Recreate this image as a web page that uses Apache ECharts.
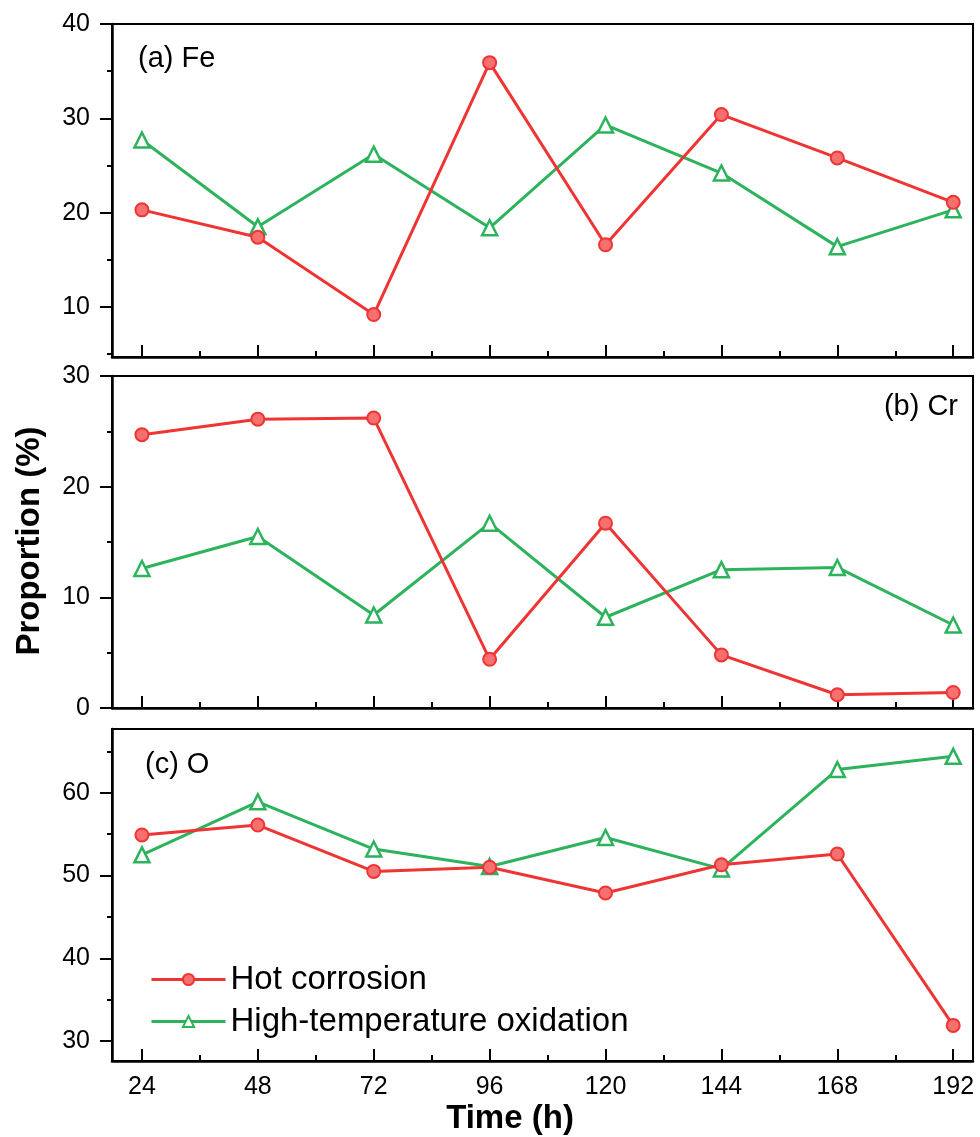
<!DOCTYPE html>
<html>
<head>
    <meta charset="utf-8"/>
    <title>Proportion vs time</title>
    <script src="https://cdn.jsdelivr.net/npm/echarts@6/dist/echarts.min.js"></script>
    <style type="text/css">
        html, body { margin: 0; padding: 0; background: #fff; }
        #main { width: 980px; height: 1137px; }
    </style>
</head>
<body>
<div id="main"></div>
<script type="text/javascript">
    // exposure time (h)
    var times = [24, 48, 72, 96, 120, 144, 168, 192];
    var minorTimes = [36, 60, 84, 108, 132, 156, 180];

    // (a) Fe
    var feHot = [20.3, 17.4, 9.2, 35.9, 16.6, 30.4, 25.8, 21.1];
    var feOx  = [27.7, 18.5, 26.2, 18.4, 29.3, 24.2, 16.4, 20.3];
    // (b) Cr
    var crHot = [24.7, 26.1, 26.2, 4.4, 16.7, 4.8, 1.2, 1.4];
    var crOx  = [12.6, 15.5, 8.4, 16.7, 8.2, 12.5, 12.7, 7.5];
    // (c) O
    var oHot = [54.9, 56.1, 50.5, 51.0, 47.9, 51.3, 52.6, 31.9];
    var oOx  = [52.5, 58.9, 53.2, 51.1, 54.6, 50.8, 62.8, 64.4];

    var seriesNames = ['Hot corrosion', 'High-temperature oxidation'];
    var panelTitles = ['(a) Fe', '(b) Cr', '(c) O'];

    var yRanges = [[4.7, 40], [0, 30], [27.6, 67.7]];
    var yMajor = [[10, 20, 30, 40], [0, 10, 20, 30], [30, 40, 50, 60]];
    var yMinor = [[5, 15, 25, 35], [5, 15, 25], [35, 45, 55, 65]];

    var RED = '#ef3434';
    var GREEN = '#2cb35c';
    var FONT = 'Liberation Sans, Arial, sans-serif';

    function pairs(vals) {
        var out = [];
        for (var i = 0; i < times.length; i++) out.push([times[i], vals[i]]);
        return out;
    }

    var grids = [
        {left: 112, right: 7, top: 24, height: 333},
        {left: 112, right: 7, top: 376, height: 332},
        {left: 112, right: 7, top: 729, height: 332}
    ];
    grids.forEach(function (g) {
        g.show = true;
        g.borderColor = '#000';
        g.borderWidth = 2;
        g.backgroundColor = 'transparent';
    });

    var xAxes = [], yAxes = [];
    for (var k = 0; k < 3; k++) {
        xAxes.push({
            type: 'value', gridIndex: k, position: 'bottom', min: 17.8, max: 196.1,
            axisLine: {onZero: false, lineStyle: {color: '#000', width: 2.5}},
            axisTick: {inside: true, length: 12, customValues: times, lineStyle: {color: '#000', width: 2}},
            axisLabel: {show: k === 2, customValues: times, margin: 14, color: '#000', fontSize: 25, fontFamily: FONT},
            splitLine: {show: false}
        });
        yAxes.push({
            type: 'value', gridIndex: k, position: 'left', min: yRanges[k][0], max: yRanges[k][1],
            axisLine: {show: true, onZero: false, lineStyle: {color: '#000', width: 2.5}},
            axisTick: {show: true, length: 12, customValues: yMajor[k], lineStyle: {color: '#000', width: 2}},
            axisLabel: {customValues: yMajor[k], margin: 22, color: '#000', fontSize: 25, fontFamily: FONT},
            splitLine: {show: false}
        });
    }
    // minor ticks
    for (var m = 0; m < 3; m++) {
        xAxes.push({
            type: 'value', gridIndex: m, position: 'bottom', min: 17.8, max: 196.1,
            axisLine: {show: false, onZero: false},
            axisTick: {inside: true, length: 6, customValues: minorTimes, lineStyle: {color: '#000', width: 2}},
            axisLabel: {show: false}, splitLine: {show: false}
        });
        yAxes.push({
            type: 'value', gridIndex: m, position: 'left', min: yRanges[m][0], max: yRanges[m][1],
            axisLine: {show: false, onZero: false},
            axisTick: {show: true, length: 5, customValues: yMinor[m], lineStyle: {color: '#000', width: 2}},
            axisLabel: {show: false}, splitLine: {show: false}
        });
    }

    function hotSeries(idx, vals) {
        return {
            name: seriesNames[0], type: 'line', xAxisIndex: idx, yAxisIndex: idx,
            data: pairs(vals), symbol: 'circle', symbolSize: 13,
            lineStyle: {color: RED, width: 3},
            itemStyle: {color: '#f77070', borderColor: RED, borderWidth: 2},
            z: 3
        };
    }
    function oxSeries(idx, vals) {
        return {
            name: seriesNames[1], type: 'line', xAxisIndex: idx, yAxisIndex: idx,
            data: pairs(vals), symbol: 'triangle', symbolSize: 15,
            lineStyle: {color: GREEN, width: 3},
            itemStyle: {color: '#ffffff', borderColor: GREEN, borderWidth: 2.5},
            z: 2
        };
    }

    var myChart = echarts.init(document.getElementById('main'));
    var option = {
        animation: false,
        grid: grids,
        xAxis: xAxes,
        yAxis: yAxes,
        legend: {
            data: seriesNames, orient: 'vertical', left: 145, top: 958,
            itemWidth: 74, itemHeight: 14, itemGap: 9,
            lineStyle: {width: 3},
            textStyle: {fontSize: 33, color: '#000', fontFamily: FONT}
        },
        graphic: [
            {type: 'text', left: 138, top: 44, style: {text: panelTitles[0], font: '29px ' + FONT, fill: '#000'}},
            {type: 'text', right: 22, top: 392, style: {text: panelTitles[1], font: '29px ' + FONT, fill: '#000'}},
            {type: 'text', left: 145, top: 750, style: {text: panelTitles[2], font: '29px ' + FONT, fill: '#000'}},
            {type: 'text', x: 30, y: 541, rotation: Math.PI / 2,
                style: {text: 'Proportion (%)', font: 'bold 33px ' + FONT, fill: '#000', align: 'center', verticalAlign: 'middle'}},
            {type: 'text', x: 510, y: 1119,
                style: {text: 'Time (h)', font: 'bold 33px ' + FONT, fill: '#000', align: 'center', verticalAlign: 'middle'}}
        ],
        series: [
            hotSeries(0, feHot), oxSeries(0, feOx),
            hotSeries(1, crHot), oxSeries(1, crOx),
            hotSeries(2, oHot), oxSeries(2, oOx)
        ]
    };
    myChart.setOption(option);
</script>
</body>
</html>
